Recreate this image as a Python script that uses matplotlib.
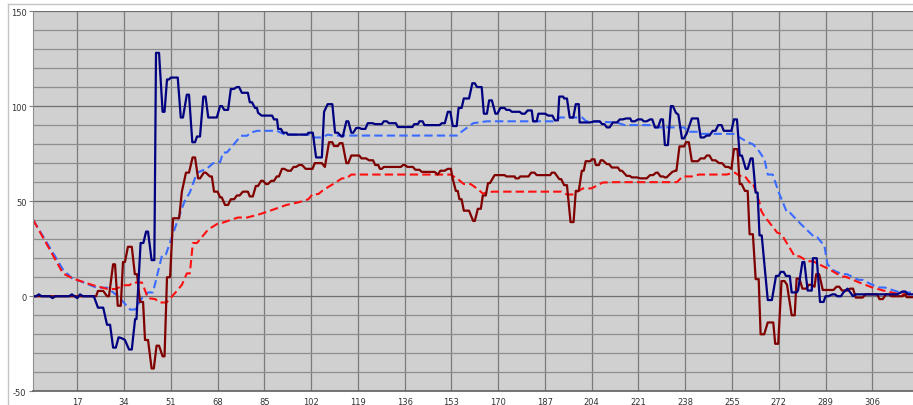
import matplotlib
matplotlib.use("Agg")
import matplotlib.pyplot as plt
from matplotlib.lines import Line2D
from matplotlib.ticker import MultipleLocator

# --- data (vertices of each trace) ---
navy_x = [1, 2, 3, 4, 7, 8, 9, 14, 15, 16, 17, 18, 19, 23, 24.5, 26.4, 27.8, 28.9, 30, 31, 32, 33, 34.3, 35.8, 36.8, 38, 38.5,
          40, 41, 42, 42.7, 44, 45, 45.6, 46.7, 48, 48.7, 49.6, 50.3, 51, 53.5, 54.6, 55.4, 56.8, 57.6, 58.8, 59.8, 60.5, 61.6,
          62.8, 63.6, 64.6, 67.7, 68.9, 69.6, 70.4, 71.8, 72.8, 73.9, 75, 75.8, 76.8, 79, 79.7, 80.5, 81.6, 82.3, 82.7, 84,
          87.8, 88.5, 89.6, 90, 91, 91.8, 93.1, 93.5, 100.5, 101, 102.6, 103.8, 105.9, 106.7, 108, 109.7, 110.7, 111.7, 113,
          113.5, 114.8, 115.5, 116.6, 117.3, 118.4, 119.5, 120.3, 121.7, 122.6, 124.3, 125.3, 127.7, 128.4, 129.5, 130.3,
          132.8, 133.5, 138.8, 139.5, 140.8, 141.4, 142.5, 143.2, 148.7, 149.5, 150.6, 151.7, 152.6, 153.5, 154.9, 155.6,
          156.7, 157.5, 159.4, 160.6, 161.5, 162.3, 164, 164.8, 165.9, 166.7, 167.7, 169, 169.7, 170.8, 172.3, 173, 174.1,
          175, 177.8, 178.6, 179.7, 180.7, 182.2, 182.7, 184, 184.6, 187.1, 188.2, 189.7, 190.6, 191.7, 192.2, 193.6, 194,
          195, 196, 197.3, 198.2, 199.3, 199.6, 203.4, 205, 206.9, 207.8, 208.6, 209.5, 210.5, 211.7, 213.2, 214.2, 215.3,
          216.5, 218, 218.5, 219.7, 220.8, 222.2, 222.9, 224, 225.2, 226, 227, 228.1, 229.1, 229.9, 230.6, 231.7, 232.8,
          233.5, 234.6, 235.5, 236.8, 237.5, 238.5, 240.4, 242.6, 243.6, 244.8, 245.8, 246.8, 248, 249, 250, 251.2, 252,
          254.8, 255.7, 256.8, 257.8, 258.6, 260, 260.7, 261.8, 262.5, 263.6, 264.3, 265, 265.8, 268, 269.5, 271, 272,
          272.7, 273.8, 274.6, 276, 276.7, 278.5, 279, 280.6, 281.3, 282.5, 284, 284.4, 285.8, 287, 288.3, 289, 290,
          291.5, 292.4, 293.3, 294.6, 295.5, 297, 299, 300, 315, 317, 318, 319, 321]
navy_y = [0, 0, 1, 0, 0, -1, 0, 0, 1, 0, -1, 1, 0, 0, -6, -6, -15, -15, -27, -27, -21.6, -22, -23, -28, -28, -12, -12,
          28, 28, 34, 34, 19, 19, 128, 128, 97, 97, 114, 114, 115, 115, 94, 94, 106, 106, 81, 81, 84, 84,
          105, 105, 94, 94, 100, 100, 98, 98, 109, 109, 110, 110, 107, 107, 102, 102, 99, 99, 96.5, 95,
          95, 93, 93, 88, 88, 86, 86, 85, 85, 86, 86, 73, 73, 97, 101, 101, 86, 86, 84,
          84, 92, 92, 86, 86, 88.5, 88.5, 88, 88, 91, 91, 90.5, 90.5, 92, 92, 91,
          91, 89, 89, 90.5, 90.5, 92, 92, 90, 90, 91, 91, 97, 97, 89.5, 89.5, 99,
          99, 104, 104, 112, 112, 110, 110, 96, 96, 103, 103, 96, 96, 99, 99, 98, 98,
          97, 97, 96, 96, 97.7, 97.7, 92, 92, 96, 96, 95, 95, 92.5, 92.5, 105, 105, 104,
          104, 94, 94, 101, 101, 91.4, 91.4, 92, 92, 90.5, 90.5, 88.8, 88.8, 91.4, 91.4, 93, 93,
          93.5, 93.5, 92, 92, 93, 93, 92, 92, 93, 93, 88.8, 88.8, 93, 93, 79.5, 79.5, 100,
          100, 96.5, 95.5, 83, 83, 85.5, 93.5, 93.5, 83.5, 83.5, 84.5, 84.5, 87, 87, 90, 90, 87,
          87, 93, 93, 74, 74, 67, 67, 72.5, 72.5, 54.5, 54.5, 32, 32, -2, -2, 10.7, 10.7,
          12.8, 12.8, 10.7, 10.7, 2, 2, 3, 18, 18, 3, 3, 20, 20, -3, -3, 0, 0,
          1, 1, 0, 0, 2, 4, 0, 1, 1, 2.5, 2.5, 1, 1]

maroon_x = [1, 23.8, 24.5, 26.4, 27.8, 28.5, 30, 30.7, 31.7, 32.8, 33.6, 34.3, 35.4, 36.8, 37.9, 38.7, 39.8, 40.9, 41.6,
            42.7, 44, 44.8, 45.8, 46.7, 48, 48.7, 49.6, 50.7, 51.8, 54, 55, 56.5, 57.6, 58.9, 59.8, 60.9, 61.6, 63, 63.7,
            65.2, 65.9, 66.7, 68, 68.9, 69.5, 70.7, 71.8, 72.8, 74, 75, 76, 77.2, 79, 79.7, 80.8, 81.9, 82.7, 83.8, 84.5,
            85.6, 86.3, 87.5, 88.5, 89.5, 90.3, 91.4, 92.2, 93.5, 94.6, 95.6, 96.5, 97.6, 98.7, 100, 102.5, 103.3, 105.9,
            107, 108.5, 109.7, 110.3, 111.7, 112.4, 113.4, 114.8, 115.5, 116.6, 119.5, 120.3, 122, 123, 124.5, 125.3,
            126.4, 127, 127.7, 128.4, 134.6, 135.4, 136.1, 137, 139, 139.9, 141.4, 142.2, 146.9, 148, 149, 150.5, 151.7,
            152.8, 153.5, 154.6, 155.3, 155.9, 156.7, 157.5, 159.4, 160.9, 161.5, 162.6, 163.7, 164.4, 165.5, 166.3, 167,
            168.7, 172.3, 173, 176, 176.3, 177.4, 178, 181, 182, 183.2, 184, 188.9, 189.5, 190.5, 192.2, 192.9, 194, 195,
            196.3, 197.4, 198.2, 199.3, 200.4, 201.1, 201.8, 203.5, 204, 205, 205.5, 206.6, 207.3, 208, 209.5, 210.3,
            211.3, 213.5, 214.3, 215, 216.7, 217.8, 218.6, 220.4, 221.7, 224, 225.2, 226.3, 227.4, 228, 229, 230, 230.6,
            231.2, 233.3, 234.4, 234.8, 235.9, 237.6, 238.3, 239.3, 240.4, 242.6, 243.6, 245, 245.8, 246.8, 247.8, 249,
            250.3, 251.4, 252.6, 253.7, 254.8, 255.7, 257, 257.8, 258.5, 259.7, 260.7, 261.4, 262.6, 263.6, 264.7, 265.4,
            266.7, 268, 270, 270.7, 271.8, 273, 274.1, 275, 276.7, 277.8, 278.5, 279.5, 280.6, 282, 282.9, 284, 285,
            285.6, 286.7, 288, 291.9, 293, 294, 295, 297, 298, 299, 300, 302.5, 303.5, 307.8, 308.6, 309.8, 311, 312,
            313, 317, 318, 318.5, 321]
maroon_y = [0, 0, 2.8, 2.8, 0, 0, 16.8, 16.8, -5, -5, 18, 18, 26, 26, 11.6, 11.6, -3, -3, -23,
            -23, -38, -38, -26, -26, -31.6, -31.6, 10, 10, 41, 41, 55, 65, 65, 73, 73, 62, 62, 65, 65,
            63, 63, 55, 55, 52, 52, 48, 48, 51, 51, 53, 53, 55, 55, 52.5, 52.5, 58, 58, 60.7, 60.7,
            59, 59, 60.7, 60.7, 63, 63, 67, 67, 66, 66, 68, 68, 69, 69, 67, 67, 70, 70,
            68, 81, 81, 79, 79, 80.5, 80.5, 70, 70, 74, 74, 72.5, 72.5, 71.5, 71.5, 69,
            69, 67, 67, 68, 68, 69, 69, 68, 68, 66.5, 66.5, 65.4, 65.4, 64, 66, 66, 67,
            67, 61.6, 55.4, 55.4, 51, 51, 45, 45, 39.6, 39.6, 46, 46, 53, 53, 59.5, 59.5,
            63.7, 63.7, 63, 63, 62, 62, 63, 63, 65, 65, 63.7, 63.7, 65, 65, 61.6, 61.6, 58.4, 58.4,
            39, 39, 55.4, 55.4, 66, 66, 71, 71, 72, 72, 69, 69, 71.5, 71.5, 69.5, 69.5,
            67.7, 67.7, 66, 66, 63.3, 63.3, 62.5, 62.5, 62, 62, 63.7, 63.7, 65, 65, 63, 63, 62.5,
            62.5, 65.4, 66, 66, 78.8, 78.8, 81, 81, 71, 71, 72.5, 72.5, 74, 74, 71.5, 71.5,
            70, 70, 68, 68, 67, 77.4, 77.4, 59, 59, 55.4, 55.4, 32.6, 32.6, 9, 9, -20,
            -20, -13.8, -13.8, -25, -25, 8, 8, 6, -10, -10, 9.3, 9.3, 4, 4, 6, 6, 5,
            11.6, 11.6, 3.3, 3.3, 5, 5, 3, 3, 4, 4, -0.7, -0.7, 1, 1, -1.5, -1.5, 1, 1,
            0, 0, 1, -0.5, -0.5]

blue_avg_x = [1, 11.8, 15.4, 18, 24, 27.8, 31.8, 36.2, 38, 40.9, 42.7, 44.5, 47.8, 49.2, 53.6, 56, 57.9, 60.5, 64, 66.4,
              68.9, 70, 71.4, 76.5, 78.7, 80, 82.3, 89.6, 91, 92.5, 102, 103, 106, 108, 110, 155, 156.2, 160.9, 163.4,
              165.8, 190, 192.5, 200.5, 202, 213, 216, 226, 227, 237.6, 239, 243, 244, 256, 257.8, 260.7, 262.5, 264.3,
              266.8, 268, 269.8, 272, 275, 276, 280, 285, 286, 288.6, 289.7, 292, 295, 296.8, 301, 302.5, 306, 308.7,
              310.5, 316, 321]
blue_avg_y = [40, 14, 9, 8, 4.5, 4.5, 0, -7, -7, 0, 2, 2, 21.6, 22, 40.5, 50, 54.6, 65, 67, 70,
              70.5, 75.6, 75.6, 84.4, 84.4, 86, 87, 87, 86, 85, 85, 83.5, 83.5, 85, 84.5, 84.5, 86, 91, 91.5,
              92, 92, 94, 94, 92, 91.4, 90, 90, 88.8, 88.8, 86.5, 86.5, 85.4, 85.4, 83.5, 81, 80, 77.4,
              72, 64, 64, 54.6, 44, 44, 38, 31, 31, 26.5, 16.8, 13.5, 11.6, 11.6, 8.6, 8.6, 6, 4.6,
              4.6, 2, 2]

red_avg_x = [1, 11.8, 15.4, 22.7, 28, 30.7, 34.3, 36, 37, 40.5, 42.7, 45.3, 46.9, 49.4, 53.2, 55, 56.8, 57.9, 59, 60.5,
             64.5, 67.8, 69.6, 72.5, 75.4, 78.7, 83, 87.9, 93, 97.7, 101, 102.5, 104.6, 106, 108.8, 110, 113.2, 114.8,
             116.6, 152.6, 155, 157.5, 160, 162.7, 164.4, 166, 168, 193, 195, 197, 200.8, 203.8, 205, 208, 213, 235,
             237, 240.4, 243, 253, 256, 257.8, 259.6, 261.4, 262.5, 265, 265.6, 266.7, 271.4, 273, 277.8, 279.5,
             282.5, 284.4, 290.3, 295, 296.3, 301.3, 306, 310, 316, 321]
red_avg_y = [40, 12, 9.3, 5.8, 3.8, 3.8, 5.8, 5.8, 7.2, 7.2, -1, -1.5, -3.3, -3.3, 2.8, 6, 12, 12, 28, 28,
             35, 38, 38.6, 40, 41.4, 41.4, 43, 45.4, 48, 49.5, 51, 53.7, 53.7, 55.4, 58, 59, 62, 62,
             64, 64, 62, 59, 59, 56.2, 54, 54.5, 55, 55, 53.5, 53.5, 56.7, 56.7, 57.5, 59.8, 60, 60,
             63, 63, 64, 64, 65, 63.3, 63.3, 59.8, 59.8, 49.3, 45, 42.3, 33.5, 32.6, 21, 21,
             18.4, 18.4, 14.2, 10.3, 10.3, 7.2, 4.6, 3, 1, 1]

x_ticks = list(range(17, 307, 17))

plt.rcParams["axes.unicode_minus"] = False

fig = plt.figure(figsize=(9.13, 4.06), dpi=100)
ax = fig.add_axes([0.0365, 0.0337, 0.9635, 0.9367])
ax.set_facecolor("#d0d0d0")

# grid
ax.yaxis.set_major_locator(MultipleLocator(50))
ax.yaxis.set_minor_locator(MultipleLocator(10))
ax.set_xticks(x_ticks)
ax.grid(which="minor", axis="y", color="#8e8e8e", linewidth=0.9)
ax.grid(which="major", axis="y", color="#6e6e6e", linewidth=0.9)
ax.grid(which="major", axis="x", color="#7a7a7a", linewidth=0.9)
ax.set_axisbelow(True)

ax.plot(blue_avg_x, blue_avg_y, color="#3a6bff", lw=1.5, dashes=(4, 2))
ax.plot(red_avg_x, red_avg_y, color="#ff1010", lw=1.5, dashes=(4, 2))
ax.plot(maroon_x, maroon_y, color="#800000", lw=1.6)
ax.plot(navy_x, navy_y, color="#000080", lw=1.6)

ax.set_xlim(1, 320.8)
ax.set_ylim(-50, 150)

for side in ["top", "right"]:
    ax.spines[side].set_visible(False)
ax.spines["left"].set_color("#909090")
ax.spines["bottom"].set_color("#606060")
ax.spines["bottom"].set_linewidth(1.2)

ax.tick_params(axis="y", which="major", length=3, width=0.8, color="#808080", pad=2, labelsize=6, labelcolor="#333333")
ax.tick_params(axis="y", which="minor", length=0)
ax.tick_params(axis="x", length=0, pad=4, labelsize=6, labelcolor="#333333")

# outer frame lines
fig.add_artist(Line2D([7.5 / 913, 7.5 / 913], [0, 1 - 4.5 / 406], transform=fig.transFigure, color="#c4c4c4", lw=1))
fig.add_artist(Line2D([7.5 / 913, 1], [1 - 4.5 / 406, 1 - 4.5 / 406], transform=fig.transFigure, color="#c4c4c4", lw=1))

fig.savefig("out.png", dpi=100)
